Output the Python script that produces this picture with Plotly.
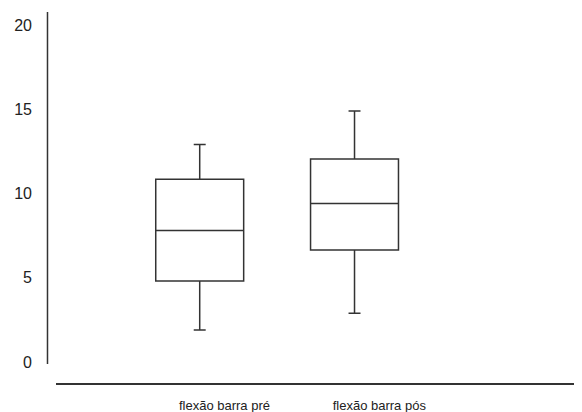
import plotly.graph_objects as go

categories = ["flexão barra pré", "flexão barra pós"]
lower = [1.9, 2.9]
q1 = [4.8, 6.65]
median = [7.8, 9.4]
q3 = [10.85, 12.05]
upper = [12.9, 14.9]
y_ticks = [0, 5, 10, 15, 20]

FONT = "Liberation Sans, Arial, sans-serif"
LINE = "#333333"

positions = list(range(1, len(categories) + 1))

fig = go.Figure()
for i, name in enumerate(categories):
    fig.add_trace(go.Box(
        x=[positions[i]],
        q1=[q1[i]], median=[median[i]], q3=[q3[i]],
        lowerfence=[lower[i]], upperfence=[upper[i]],
        name=name,
        width=0.568,
        whiskerwidth=0.136,
        fillcolor="white",
        line=dict(color=LINE, width=1.5),
        boxpoints=False,
        hoverinfo="skip",
    ))

label_offset = 0.16
# page body has an 8px default margin, so the figure is 8px smaller each way
fig.update_layout(
    width=574, height=404,
    margin=dict(l=48, r=1, t=4, b=29, autoexpand=False),
    paper_bgcolor="white", plot_bgcolor="white",
    showlegend=False,
    font=dict(family=FONT, size=16, color="#222222"),
    xaxis=dict(
        range=[0.0717, 3.463],
        tickvals=[p + label_offset for p in positions],
        ticktext=categories,
        showgrid=False, zeroline=False,
        showline=True, linecolor=LINE, linewidth=1.5,
        ticks="", ticklabelstandoff=10, automargin=False,
        tickfont=dict(family=FONT, size=13, color="#222222"),
    ),
    yaxis=dict(
        range=[-1.246, 20.77],
        tickvals=y_ticks,
        showgrid=False, zeroline=False, showline=False,
        ticks="", ticklabelstandoff=23, automargin=False,
        tickfont=dict(family=FONT, size=16, color="#222222"),
    ),
)

fig.add_shape(type="line", xref="paper", yref="y",
              x0=-0.0162, x1=-0.0162, y0=-0.12, y1=20.77,
              line=dict(color=LINE, width=1.5))

fig.write_html("out.html")
